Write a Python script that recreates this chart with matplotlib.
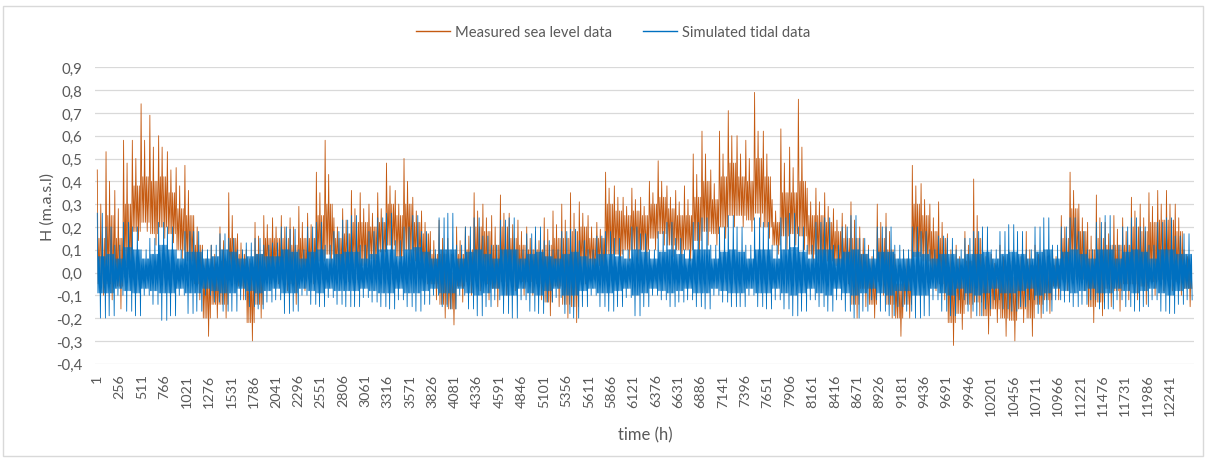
import matplotlib
matplotlib.use("Agg")
import matplotlib.pyplot as plt
import numpy as np
from matplotlib.lines import Line2D
from matplotlib.patches import Rectangle

plt.rcParams['font.family'] = ['Lato', 'DejaVu Sans']

# ---------------- data (one value per 100-hour window) -------------
window_hours = 100
first_hour = 1

# Measured sea level: highest spike, a typical secondary spike, lowest dip,
# and the upper / lower edges of the dense orange body
meas_high = [
    0.45, 0.53, 0.36, 0.58, 0.58, 0.74, 0.69, 0.60, 0.53, 0.46,
    0.47, 0.25, 0.12, 0.12, 0.20, 0.35, 0.17, 0.10, 0.22, 0.25,
    0.24, 0.25, 0.24, 0.29, 0.26, 0.44, 0.58, 0.24, 0.28, 0.36,
    0.35, 0.30, 0.35, 0.48, 0.36, 0.50, 0.33, 0.27, 0.18, 0.23,
    0.15, 0.20, 0.20, 0.35, 0.30, 0.25, 0.34, 0.26, 0.23, 0.20,
    0.18, 0.24, 0.27, 0.30, 0.35, 0.31, 0.25, 0.22, 0.44, 0.38,
    0.33, 0.37, 0.33, 0.40, 0.49, 0.38, 0.36, 0.38, 0.52, 0.62,
    0.45, 0.62, 0.71, 0.60, 0.58, 0.79, 0.62, 0.32, 0.63, 0.55,
    0.76, 0.37, 0.37, 0.35, 0.28, 0.26, 0.31, 0.20, 0.12, 0.30,
    0.26, 0.08, 0.10, 0.47, 0.39, 0.30, 0.31, 0.17, 0.12, 0.18,
    0.41, 0.12, 0.08, 0.12, 0.10, 0.12, 0.18, 0.12, 0.10, 0.10,
    0.25, 0.44, 0.30, 0.22, 0.34, 0.22, 0.25, 0.24, 0.33, 0.30,
    0.35, 0.36, 0.36, 0.30, 0.10,
]
meas_spike = [
    0.30, 0.40, 0.28, 0.48, 0.50, 0.58, 0.55, 0.55, 0.45, 0.38,
    0.36, 0.20, 0.06, 0.08, 0.14, 0.25, 0.13, 0.06, 0.16, 0.21,
    0.20, 0.20, 0.20, 0.22, 0.21, 0.35, 0.43, 0.20, 0.23, 0.28,
    0.28, 0.26, 0.28, 0.38, 0.30, 0.40, 0.27, 0.22, 0.14, 0.15,
    0.08, 0.14, 0.16, 0.27, 0.24, 0.20, 0.26, 0.21, 0.18, 0.15,
    0.14, 0.19, 0.21, 0.23, 0.26, 0.26, 0.20, 0.19, 0.37, 0.33,
    0.29, 0.32, 0.29, 0.35, 0.40, 0.33, 0.31, 0.32, 0.43, 0.52,
    0.39, 0.52, 0.60, 0.52, 0.50, 0.62, 0.52, 0.27, 0.48, 0.46,
    0.55, 0.31, 0.31, 0.29, 0.23, 0.21, 0.23, 0.15, 0.07, 0.22,
    0.18, 0.03, 0.06, 0.38, 0.32, 0.24, 0.22, 0.10, 0.07, 0.12,
    0.25, 0.07, 0.04, 0.07, 0.05, 0.07, 0.10, 0.08, 0.07, 0.07,
    0.20, 0.36, 0.24, 0.16, 0.24, 0.17, 0.19, 0.18, 0.27, 0.24,
    0.29, 0.30, 0.30, 0.24, 0.07,
]
meas_low = [
    -0.10, -0.12, -0.16, -0.02, 0.14, 0.18, 0.12, 0.15, 0.13, 0.06,
    0.00, -0.12, -0.28, -0.20, -0.20, -0.05, -0.12, -0.30, -0.20, -0.05,
    -0.05, -0.08, -0.14, -0.08, -0.05, -0.02, 0.02, -0.02, -0.04, -0.03,
    -0.02, 0.02, 0.05, 0.08, 0.02, 0.05, 0.00, -0.05, -0.12, -0.20,
    -0.23, -0.13, -0.10, -0.08, -0.12, -0.15, -0.10, -0.08, -0.10, -0.10,
    -0.12, -0.19, -0.15, -0.20, -0.22, -0.05, -0.03, -0.02, 0.02, 0.03,
    0.05, 0.05, 0.05, 0.10, 0.12, 0.07, 0.05, 0.05, 0.08, 0.12,
    0.12, 0.15, 0.20, 0.20, 0.18, 0.20, 0.15, 0.08, 0.10, 0.12,
    0.10, 0.03, 0.00, 0.00, -0.02, -0.05, -0.20, -0.15, -0.20, -0.10,
    -0.20, -0.28, -0.20, 0.02, 0.00, -0.08, -0.12, -0.32, -0.25, -0.20,
    -0.19, -0.27, -0.22, -0.28, -0.30, -0.22, -0.28, -0.20, -0.18, -0.12,
    -0.08, -0.02, -0.08, -0.22, -0.19, -0.15, -0.17, -0.12, -0.12, -0.14,
    -0.10, -0.08, -0.08, -0.10, -0.15,
]
meas_body_top = [
    0.15, 0.25, 0.15, 0.30, 0.38, 0.42, 0.40, 0.42, 0.35, 0.28,
    0.25, 0.12, 0.00, 0.02, 0.05, 0.15, 0.08, 0.00, 0.08, 0.15,
    0.15, 0.15, 0.12, 0.15, 0.15, 0.25, 0.30, 0.15, 0.17, 0.22,
    0.22, 0.20, 0.22, 0.30, 0.25, 0.30, 0.22, 0.17, 0.08, 0.08,
    0.00, 0.08, 0.10, 0.20, 0.18, 0.12, 0.20, 0.15, 0.12, 0.10,
    0.10, 0.12, 0.15, 0.15, 0.18, 0.20, 0.15, 0.15, 0.30, 0.27,
    0.25, 0.27, 0.25, 0.30, 0.33, 0.28, 0.25, 0.25, 0.33, 0.40,
    0.32, 0.42, 0.48, 0.42, 0.40, 0.50, 0.42, 0.22, 0.35, 0.35,
    0.40, 0.25, 0.25, 0.22, 0.18, 0.15, 0.15, 0.08, 0.00, 0.15,
    0.10, -0.05, 0.00, 0.30, 0.25, 0.18, 0.15, 0.02, 0.00, 0.05,
    0.15, 0.00, -0.02, 0.00, -0.02, 0.00, 0.03, 0.02, 0.02, 0.03,
    0.15, 0.28, 0.18, 0.10, 0.15, 0.12, 0.12, 0.12, 0.20, 0.18,
    0.22, 0.23, 0.23, 0.18, 0.03,
]
meas_body_low = [
    -0.05, -0.05, -0.06, 0.03, 0.18, 0.22, 0.17, 0.20, 0.17, 0.10,
    0.05, -0.05, -0.20, -0.14, -0.14, 0.00, -0.06, -0.22, -0.14, 0.00,
    0.00, -0.03, -0.05, -0.02, 0.00, 0.05, 0.08, 0.02, 0.01, 0.02,
    0.03, 0.06, 0.09, 0.12, 0.07, 0.10, 0.05, 0.00, -0.05, -0.14,
    -0.16, -0.06, -0.04, -0.02, -0.05, -0.07, -0.04, -0.03, -0.04, -0.04,
    -0.05, -0.13, -0.06, -0.14, -0.15, 0.00, 0.02, 0.03, 0.08, 0.08,
    0.10, 0.10, 0.10, 0.15, 0.17, 0.12, 0.10, 0.10, 0.14, 0.18,
    0.17, 0.20, 0.25, 0.25, 0.23, 0.26, 0.20, 0.12, 0.16, 0.17,
    0.16, 0.08, 0.05, 0.05, 0.03, 0.00, -0.14, -0.07, -0.14, -0.04,
    -0.14, -0.20, -0.14, 0.07, 0.05, -0.02, -0.05, -0.22, -0.18, -0.14,
    -0.13, -0.19, -0.16, -0.20, -0.21, -0.16, -0.20, -0.14, -0.12, -0.06,
    -0.03, 0.03, -0.03, -0.15, -0.13, -0.07, -0.08, -0.05, -0.05, -0.06,
    -0.04, -0.03, -0.03, -0.04, -0.07,
]

# Simulated tide: envelope highs/lows and the dense dark core band
tide_high = [
    0.26, 0.20, 0.12, 0.22, 0.20, 0.10, 0.15, 0.22, 0.20, 0.10,
    0.18, 0.18, 0.10, 0.12, 0.17, 0.15, 0.10, 0.13, 0.15, 0.12,
    0.13, 0.20, 0.19, 0.10, 0.20, 0.22, 0.12, 0.18, 0.23, 0.25,
    0.12, 0.18, 0.24, 0.26, 0.14, 0.20, 0.25, 0.18, 0.10, 0.24,
    0.26, 0.12, 0.20, 0.24, 0.16, 0.12, 0.23, 0.24, 0.10, 0.17,
    0.20, 0.14, 0.10, 0.18, 0.19, 0.14, 0.10, 0.16, 0.18, 0.15,
    0.10, 0.20, 0.17, 0.10, 0.18, 0.22, 0.15, 0.10, 0.22, 0.24,
    0.12, 0.20, 0.25, 0.20, 0.12, 0.24, 0.22, 0.12, 0.24, 0.26,
    0.20, 0.12, 0.22, 0.24, 0.12, 0.20, 0.25, 0.15, 0.10, 0.20,
    0.20, 0.12, 0.10, 0.20, 0.18, 0.10, 0.16, 0.15, 0.10, 0.15,
    0.18, 0.20, 0.10, 0.18, 0.21, 0.18, 0.10, 0.20, 0.24, 0.12,
    0.20, 0.24, 0.18, 0.10, 0.22, 0.25, 0.12, 0.20, 0.24, 0.20,
    0.12, 0.22, 0.24, 0.16, 0.17,
]
tide_low = [
    -0.20, -0.19, -0.10, -0.17, -0.19, -0.10, -0.14, -0.21, -0.19, -0.10,
    -0.18, -0.17, -0.10, -0.13, -0.17, -0.17, -0.12, -0.15, -0.16, -0.13,
    -0.12, -0.18, -0.17, -0.10, -0.14, -0.15, -0.11, -0.14, -0.15, -0.15,
    -0.11, -0.13, -0.15, -0.16, -0.12, -0.15, -0.17, -0.14, -0.10, -0.15,
    -0.16, -0.10, -0.16, -0.19, -0.15, -0.12, -0.18, -0.20, -0.12, -0.17,
    -0.18, -0.13, -0.11, -0.18, -0.20, -0.15, -0.10, -0.15, -0.17, -0.15,
    -0.11, -0.19, -0.15, -0.10, -0.12, -0.15, -0.13, -0.12, -0.15, -0.16,
    -0.10, -0.13, -0.15, -0.15, -0.10, -0.15, -0.16, -0.12, -0.16, -0.19,
    -0.17, -0.12, -0.15, -0.17, -0.12, -0.17, -0.20, -0.17, -0.12, -0.17,
    -0.19, -0.15, -0.17, -0.20, -0.19, -0.12, -0.17, -0.19, -0.12, -0.17,
    -0.19, -0.16, -0.12, -0.16, -0.17, -0.15, -0.12, -0.18, -0.17, -0.12,
    -0.13, -0.15, -0.14, -0.12, -0.16, -0.16, -0.12, -0.15, -0.17, -0.15,
    -0.12, -0.17, -0.18, -0.14, -0.12,
]
tide_core_high = [
    0.07, 0.08, 0.06, 0.11, 0.10, 0.06, 0.08, 0.12, 0.10, 0.06,
    0.09, 0.09, 0.06, 0.07, 0.10, 0.09, 0.06, 0.07, 0.08, 0.07,
    0.07, 0.10, 0.09, 0.06, 0.09, 0.10, 0.06, 0.08, 0.09, 0.09,
    0.06, 0.08, 0.10, 0.10, 0.07, 0.10, 0.11, 0.09, 0.06, 0.10,
    0.10, 0.06, 0.09, 0.10, 0.08, 0.06, 0.10, 0.10, 0.06, 0.08,
    0.09, 0.07, 0.06, 0.08, 0.09, 0.07, 0.06, 0.08, 0.08, 0.07,
    0.06, 0.10, 0.09, 0.06, 0.09, 0.10, 0.08, 0.06, 0.10, 0.10,
    0.06, 0.09, 0.10, 0.09, 0.06, 0.10, 0.10, 0.06, 0.10, 0.11,
    0.09, 0.06, 0.10, 0.10, 0.06, 0.09, 0.10, 0.08, 0.06, 0.09,
    0.09, 0.06, 0.06, 0.09, 0.08, 0.06, 0.08, 0.08, 0.06, 0.08,
    0.08, 0.09, 0.06, 0.08, 0.09, 0.08, 0.06, 0.09, 0.10, 0.06,
    0.09, 0.10, 0.08, 0.06, 0.10, 0.10, 0.06, 0.09, 0.10, 0.09,
    0.06, 0.10, 0.10, 0.08, 0.08,
]
tide_core_low = [
    -0.09, -0.09, -0.07, -0.08, -0.09, -0.07, -0.08, -0.09, -0.09, -0.07,
    -0.09, -0.09, -0.07, -0.08, -0.09, -0.09, -0.07, -0.08, -0.09, -0.08,
    -0.07, -0.09, -0.09, -0.07, -0.08, -0.09, -0.07, -0.08, -0.08, -0.08,
    -0.07, -0.08, -0.09, -0.09, -0.07, -0.09, -0.09, -0.08, -0.07, -0.09,
    -0.09, -0.07, -0.09, -0.10, -0.09, -0.07, -0.10, -0.10, -0.07, -0.09,
    -0.10, -0.08, -0.07, -0.10, -0.10, -0.08, -0.07, -0.09, -0.09, -0.08,
    -0.07, -0.10, -0.09, -0.07, -0.08, -0.09, -0.08, -0.07, -0.09, -0.09,
    -0.07, -0.08, -0.09, -0.09, -0.07, -0.09, -0.09, -0.07, -0.09, -0.10,
    -0.09, -0.07, -0.09, -0.10, -0.07, -0.09, -0.10, -0.09, -0.07, -0.09,
    -0.10, -0.08, -0.08, -0.10, -0.10, -0.07, -0.09, -0.10, -0.07, -0.09,
    -0.10, -0.09, -0.07, -0.09, -0.09, -0.08, -0.07, -0.10, -0.09, -0.07,
    -0.08, -0.09, -0.08, -0.07, -0.09, -0.09, -0.07, -0.08, -0.09, -0.08,
    -0.07, -0.09, -0.10, -0.08, -0.07,
]

x_tick_labels = [str(v) for v in range(1, 12242, 255)]
y_ticks = [-0.4, -0.3, -0.2, -0.1, 0.0, 0.1, 0.2, 0.3, 0.4, 0.5, 0.6, 0.7, 0.8, 0.9]

series_labels = ["Measured sea level data", "Simulated tidal data"]
colors = ["#C55A11", "#0070C0"]

n = len(meas_high)
for arr in (meas_spike, meas_low, meas_body_top, meas_body_low,
            tide_high, tide_low, tide_core_high, tide_core_low):
    assert len(arr) == n, len(arr)


def trace(seq_keys, arrays):
    """Visit the read values of each window in the given order."""
    xs, ys = [], []
    step = window_hours / len(seq_keys)
    for i in range(n):
        for k, key in enumerate(seq_keys):
            xs.append(first_hour + i * window_hours + k * step)
            ys.append(arrays[key][i])
    return np.array(xs), np.array(ys)


meas_order = ["H", "BL", "BT", "BL", "S", "BL", "BT", "L", "BT", "BL"]
tide_order = ["H", "CL", "CH", "CL", "CH", "L", "CH", "CL",
              "H", "CL", "CH", "CL", "CH", "L"]

mx, my = trace(meas_order, {"H": meas_high, "S": meas_spike, "L": meas_low,
                            "BT": meas_body_top, "BL": meas_body_low})
tx, ty = trace(tide_order, {"H": tide_high, "L": tide_low,
                            "CH": tide_core_high, "CL": tide_core_low})

# ---------------- figure ----------------
W, H = 1206, 460
fig = plt.figure(figsize=(W / 100, H / 100), dpi=100)
fig.patch.set_facecolor("white")
fig.add_artist(Rectangle((3 / W, 3 / H), (W - 6) / W, (H - 10) / H, transform=fig.transFigure,
                         fill=False, edgecolor="#D9D9D9", linewidth=1.0))

left, right, top, bottom = 95, 1194, 68.3, 364.7
ax = fig.add_axes([left / W, 1 - bottom / H, (right - left) / W, (bottom - top) / H])

ax.plot(mx, my, color=colors[0], lw=0.6, zorder=2)
ax.plot(tx, ty, color=colors[1], lw=0.6, zorder=3)

ax.set_xlim(-25, 12515)
ax.set_ylim(-0.4, 0.9)
ax.set_xticks([int(s) for s in x_tick_labels])
ax.set_xticklabels(x_tick_labels, rotation=90, fontsize=10.3, color="#595959")
ax.set_yticks(y_ticks)
ax.set_yticklabels([f"{v:.1f}".replace(".", ",") for v in y_ticks], fontsize=10.8, color="#595959")
ax.tick_params(axis="x", length=0, pad=7)
ax.tick_params(axis="y", length=0, pad=9)
for lab in ax.get_xticklabels():
    lab.set_verticalalignment("top")
for s in ax.spines.values():
    s.set_visible(False)
ax.grid(axis="y", color="#D9D9D9", lw=0.9)
ax.set_axisbelow(True)

fig.text(48 / W, 1 - 207 / H, "H (m.a.s.l)", rotation=90, ha="center", va="center",
         fontsize=11.5, color="#595959")
fig.text(645 / W, 1 - 435 / H, "time (h)", ha="center", va="center", fontsize=12, color="#595959")

handles = [Line2D([], [], color=c, lw=1.0) for c in colors]
fig.legend(handles, series_labels, loc="center", bbox_to_anchor=(613 / W, 1 - 33 / H), ncol=2,
           frameon=False, fontsize=10.6, handlelength=2.3, handletextpad=0.35, columnspacing=2.1,
           labelcolor="#595959")

fig.savefig("out.png", dpi=100, facecolor="white")
